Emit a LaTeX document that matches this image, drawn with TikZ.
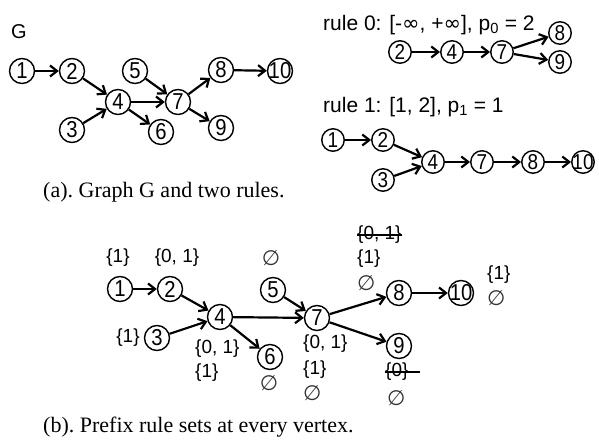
\documentclass[tikz,border=0pt]{standalone}
\usepackage{fontspec}
\setmainfont{Liberation Sans}
\newfontfamily\capfont{Liberation Serif}
\newfontfamily\symfont{DejaVu Sans}
\newfontfamily\nodefont[FakeStretch=0.88]{Liberation Sans}
\usetikzlibrary{arrows.meta}
\begin{document}
\begin{tikzpicture}[x=1pt,y=-1pt,
  vtx/.style={circle,draw,line width=1.4pt,minimum size=25pt,inner sep=0pt,font=\fontsize{23}{23}\selectfont\nodefont},
  svtx/.style={vtx,minimum size=22.5pt,font=\fontsize{21.5}{21.5}\selectfont\nodefont},
  edge/.style={line width=2.2pt,-{Straight Barb[length=7pt,width=11pt]}},
  lab/.style={inner sep=0pt,font=\fontsize{19}{19}\selectfont},
  emp/.style={inner sep=0pt,text=black!80,font=\fontsize{21}{21}\selectfont\symfont},
  rtext/.style={inner sep=0pt,anchor=west,font=\fontsize{21}{21}\selectfont},
  captext/.style={inner sep=0pt,anchor=west,font=\fontsize{22}{22}\selectfont\capfont\frenchspacing},
  strike/.style={line width=1.6pt}
]
\useasboundingbox (0,0) rectangle (599,441);

% ---------- Graph G ----------
\node[inner sep=0pt,font=\fontsize{20}{20}\selectfont] (Glab) at (19,32) {G};
\node[vtx] (g1) at (22,71) {1};
\node[vtx] (g2) at (72,71) {2};
\node[vtx] (g5) at (135,71) {5};
\node[vtx] (g8) at (221,70) {8};
\node[vtx] (g10) at (280,71) {\makebox[0pt]{10}};
\node[vtx] (g4) at (118,102) {4};
\node[vtx] (g7) at (178,102) {7};
\node[vtx] (g3) at (72,130) {3};
\node[vtx] (g6) at (161,132) {6};
\node[vtx] (g9) at (221,128) {9};
\draw[edge] (g1) -- (g2);
\draw[edge] (g2) -- (g4);
\draw[edge] (g3) -- (g4);
\draw[edge] (g4) -- (g7);
\draw[edge] (g4) -- (g6);
\draw[edge] (g5) -- (g7);
\draw[edge] (g7) -- (g8);
\draw[edge] (g7) -- (g9);
\draw[edge] (g8) -- (g10);

% ---------- rule 0 ----------
\node[rtext] (r0t) at (323,25) {rule 0: [-{\symfont∞}, +{\symfont∞}], p\textsubscript{0} = 2};
\node[svtx] (a2) at (400,52) {2};
\node[svtx] (a4) at (452,52) {4};
\node[svtx] (a7) at (502,52) {7};
\node[svtx] (a8) at (560,33) {8};
\node[svtx] (a9) at (560,62) {9};
\draw[edge] (a2) -- (a4);
\draw[edge] (a4) -- (a7);
\draw[edge] (a7) -- (a8);
\draw[edge] (a7) -- (a9);

% ---------- rule 1 ----------
\node[rtext] (r1t) at (323,107) {rule 1: [1, 2], p\textsubscript{1} = 1};
\node[svtx] (c1) at (333,140) {1};
\node[svtx] (c2) at (383,140) {2};
\node[svtx] (c3) at (383,180) {3};
\node[svtx] (c4) at (433,162) {4};
\node[svtx] (c7) at (482,162) {7};
\node[svtx] (c8) at (533,162) {8};
\node[svtx] (c10) at (583,162) {\makebox[0pt]{10}};
\draw[edge] (c1) -- (c2);
\draw[edge] (c2) -- (c4);
\draw[edge] (c3) -- (c4);
\draw[edge] (c4) -- (c7);
\draw[edge] (c7) -- (c8);
\draw[edge] (c8) -- (c10);

\node[captext] (capa) at (43,192) {(a). Graph G and two rules.};

% ---------- bottom graph ----------
\node[vtx] (b1) at (120,289) {1};
\node[vtx] (b2) at (170,289) {2};
\node[vtx] (b5) at (273,290) {5};
\node[vtx] (b4) at (220,317) {4};
\node[vtx] (b7) at (317,318) {7};
\node[vtx] (b3) at (157,338) {3};
\node[vtx] (b6) at (270,357) {6};
\node[vtx] (b8) at (399,293) {8};
\node[vtx] (b10) at (461,293) {\makebox[0pt]{10}};
\node[vtx] (b9) at (399,346) {9};
\draw[edge] (b1) -- (b2);
\draw[edge] (b2) -- (b4);
\draw[edge] (b3) -- (b4);
\draw[edge] (b4) -- (b7);
\draw[edge] (b4) -- (b6);
\draw[edge] (b5) -- (b7);
\draw[edge] (b7) -- (b8);
\draw[edge] (b7) -- (b9);
\draw[edge] (b8) -- (b10);

% prefix rule sets
\node[lab] (l1) at (118,258) {\{1\}};
\node[lab] (l2) at (177,258) {\{0, 1\}};
\node[emp] (l5) at (271,258) {∅};
\node[lab] (l3) at (128,338) {\{1\}};
\node[lab,anchor=west] (l4a) at (195,349) {\{0, 1\}};
\node[lab,anchor=west] (l4b) at (195,373) {\{1\}};
\node[emp] (l6) at (269,383) {∅};
\node[lab,anchor=west] (l7a) at (303,344) {\{0, 1\}};
\node[lab,anchor=west] (l7b) at (303,370) {\{1\}};
\node[emp,anchor=west] (l7c) at (303,393) {∅};
\node[lab,anchor=west] (l8a) at (357,235) {\{0, 1\}};
\draw[strike] (l8a.west) -- (l8a.east);
\node[lab,anchor=west] (l8b) at (357,259) {\{1\}};
\node[emp,anchor=west] (l8c) at (357,283) {∅};
\node[lab,anchor=west] (l10a) at (487,275) {\{1\}};
\node[emp,anchor=west] (l10b) at (487,298) {∅};
\node[lab,anchor=west] (l9a) at (385,372) {\{0\}};
\coordinate (l9end) at (420,372);
\draw[strike] (l9a.west) -- (l9end);
\node[emp,anchor=west] (l9b) at (387,398) {∅};

\node[captext] (capb) at (43,427) {(b). Prefix rule sets at every vertex.};
\end{tikzpicture}
\end{document}
